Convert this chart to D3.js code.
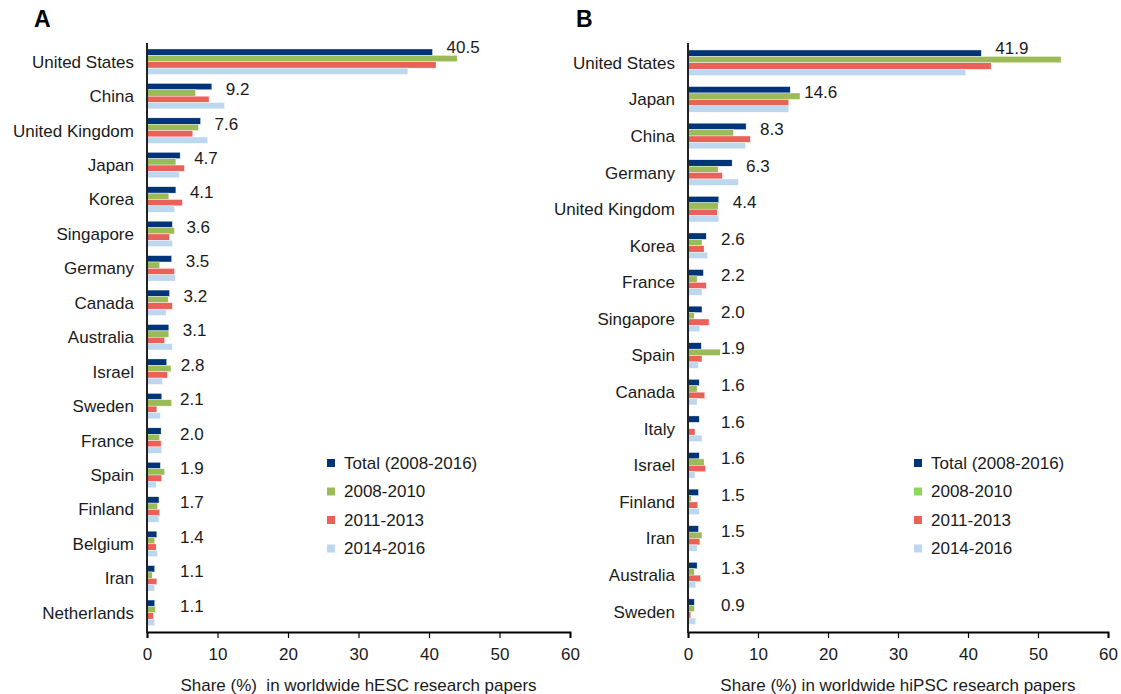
<!DOCTYPE html>
<html lang="en">
<head>
    <meta charset="UTF-8">
    <title>hESC and hiPSC research paper shares</title>
    <script src="https://d3js.org/d3.v7.min.js"></script>
    <style>
        body {
            margin: 0;
            background: #fff;
            font-family: "Liberation Sans", Arial, sans-serif;
        }

        text {
            fill: #1a1a1a;
        }

        .cat-label,
        .val-label,
        .tick-label,
        .legend-label,
        .axis-title {
            font-size: 17px;
        }

        .panel-letter {
            font-size: 23px;
            font-weight: bold;
            fill: #000;
        }
    </style>
</head>
<body>
    <svg id="chart"></svg>

    <script>
        // Series names (legend order)
        const seriesNames = ["Total (2008-2016)", "2008-2010", "2011-2013", "2014-2016"];

        // Panel A: hESC
        const hescCountries = ["United States", "China", "United Kingdom", "Japan", "Korea", "Singapore",
            "Germany", "Canada", "Australia", "Israel", "Sweden", "France", "Spain", "Finland",
            "Belgium", "Iran", "Netherlands"];
        const hescTotal = [40.5, 9.2, 7.6, 4.7, 4.1, 3.6, 3.5, 3.2, 3.1, 2.8, 2.1, 2.0, 1.9, 1.7, 1.4, 1.1, 1.1];
        const hesc0810 = [44.0, 6.9, 7.3, 4.1, 3.1, 3.9, 1.8, 3.0, 3.1, 3.4, 3.5, 1.8, 2.5, 1.5, 1.1, 0.75, 1.2];
        const hesc1113 = [41.0, 8.8, 6.5, 5.3, 5.0, 3.2, 3.9, 3.6, 2.5, 2.9, 1.4, 2.0, 2.1, 1.8, 1.3, 1.4, 0.9];
        const hesc1416 = [37.0, 11.0, 8.6, 4.6, 3.9, 3.6, 4.0, 2.7, 3.6, 2.2, 1.9, 2.1, 1.3, 1.7, 1.5, 1.1, 1.1];

        // Panel B: hiPSC
        const hipscCountries = ["United States", "Japan", "China", "Germany", "United Kingdom", "Korea",
            "France", "Singapore", "Spain", "Canada", "Italy", "Israel", "Finland", "Iran",
            "Australia", "Sweden"];
        const hipscTotal = [41.9, 14.6, 8.3, 6.3, 4.4, 2.6, 2.2, 2.0, 1.9, 1.6, 1.6, 1.6, 1.5, 1.5, 1.3, 0.9];
        const hipsc0810 = [53.3, 16.0, 6.5, 4.3, 4.3, 2.0, 1.3, 0.9, 4.6, 1.3, 0.0, 2.3, 0.45, 2.0, 0.9, 0.9];
        const hipsc1113 = [43.3, 14.4, 8.9, 4.9, 4.2, 2.3, 2.6, 3.0, 2.0, 2.4, 1.0, 2.5, 1.4, 1.7, 1.8, 0.4];
        const hipsc1416 = [39.7, 14.4, 8.2, 7.2, 4.4, 2.8, 2.0, 1.7, 1.5, 1.3, 2.0, 1.0, 1.6, 1.3, 1.1, 1.1];

        const xTicks = [0, 10, 20, 30, 40, 50, 60];

        const barColors = ["#003478", "#9bbb59", "#ec605a", "#bdd7ee"];
        const legendColorsB = ["#003478", "#8bd95a", "#ec605a", "#bdd7ee"];

        const width = 1121;
        const height = 694;

        const svg = d3.select("#chart")
            .attr("width", width)
            .attr("height", height);

        function drawPanel(opts) {
            const g = svg.append("g");
            const countries = opts.countries;
            const series = opts.series;

            const x = d3.scaleLinear()
                .domain([0, 60])
                .range([opts.left, opts.right]);

            const y = d3.scaleBand()
                .domain(countries)
                .range([44.5, 630])
                .paddingInner(opts.pad)
                .paddingOuter(opts.pad / 2);

            const ySub = d3.scaleBand()
                .domain(d3.range(series.length))
                .range([0, y.bandwidth()]);

            // bars
            series.forEach((vals, si) => {
                g.selectAll(null)
                    .data(countries)
                    .enter()
                    .append("rect")
                    .attr("x", x(0))
                    .attr("y", c => y(c) + ySub(si))
                    .attr("width", (c, i) => Math.max(0, x(vals[i]) - x(0)))
                    .attr("height", ySub.bandwidth())
                    .attr("fill", barColors[si])
                    .attr("stroke", "#fff")
                    .attr("stroke-width", 0.4);
            });

            // value labels (total)
            const total = series[0];
            const labelX = i => Math.max(x(total[i]) + 14, x(0) + 33);
            g.selectAll(null)
                .data(countries)
                .enter()
                .append("text")
                .attr("class", "val-label")
                .attr("x", (c, i) => labelX(i))
                .attr("y", (c, i) => {
                    const maxEnd = d3.max(series, s => x(s[i]));
                    const centre = y(c) + y.bandwidth() / 2;
                    return (maxEnd > labelX(i) ? centre - 15 : centre - 7);
                })
                .attr("dy", "0.35em")
                .text((c, i) => total[i].toFixed(1));

            // category labels
            g.selectAll(null)
                .data(countries)
                .enter()
                .append("text")
                .attr("class", "cat-label")
                .attr("x", x(0) - 13)
                .attr("y", c => y(c) + y.bandwidth() / 2)
                .attr("dy", "0.35em")
                .attr("text-anchor", "end")
                .text(c => c);

            // x axis
            const xAxis = g.append("g")
                .attr("transform", "translate(0,632)")
                .call(d3.axisBottom(x).tickValues(xTicks).tickSize(6).tickSizeOuter(6).tickPadding(10));
            xAxis.select(".domain").attr("stroke", "#000").attr("stroke-width", 2);
            xAxis.selectAll(".tick line").attr("stroke", "#000").attr("stroke-width", 1.2);
            xAxis.selectAll(".tick text")
                .attr("class", "tick-label")
                .style("font-family", "'Liberation Sans', Arial, sans-serif")
                .style("font-size", "17px")
                .attr("fill", "#1a1a1a");

            // y axis line
            g.append("line")
                .attr("x1", x(0))
                .attr("x2", x(0))
                .attr("y1", 43)
                .attr("y2", 633)
                .attr("stroke", "#222")
                .attr("stroke-width", 2);

            // axis title
            g.append("text")
                .attr("class", "axis-title")
                .attr("x", (opts.left + opts.right) / 2)
                .attr("y", 685)
                .attr("dy", "0.35em")
                .attr("text-anchor", "middle")
                .style("white-space", "pre")
                .attr("xml:space", "preserve")
                .text(opts.title);

            // legend
            const legend = g.append("g")
                .attr("transform", `translate(${opts.legendX},463)`);
            seriesNames.forEach((name, i) => {
                legend.append("rect")
                    .attr("x", 0)
                    .attr("y", i * 28.5 - 4)
                    .attr("width", 8)
                    .attr("height", 8)
                    .attr("fill", opts.legendColors[i]);
                legend.append("text")
                    .attr("class", "legend-label")
                    .attr("x", 17)
                    .attr("y", i * 28.5)
                    .attr("dy", "0.35em")
                    .text(name);
            });

            // panel letter
            svg.append("text")
                .attr("class", "panel-letter")
                .attr("x", opts.letterX)
                .attr("y", 27)
                .text(opts.letter);
        }

        drawPanel({
            countries: hescCountries,
            series: [hescTotal, hesc0810, hesc1113, hesc1416],
            left: 147,
            right: 570,
            pad: 0.26,
            title: "Share (%)  in worldwide hESC research papers",
            legendX: 327,
            legendColors: barColors,
            letter: "A",
            letterX: 34
        });

        drawPanel({
            countries: hipscCountries,
            series: [hipscTotal, hipsc0810, hipsc1113, hipsc1416],
            left: 688,
            right: 1108,
            pad: 0.3,
            title: "Share (%) in worldwide hiPSC research papers",
            legendX: 914,
            legendColors: legendColorsB,
            letter: "B",
            letterX: 576
        });
    </script>
</body>
</html>
